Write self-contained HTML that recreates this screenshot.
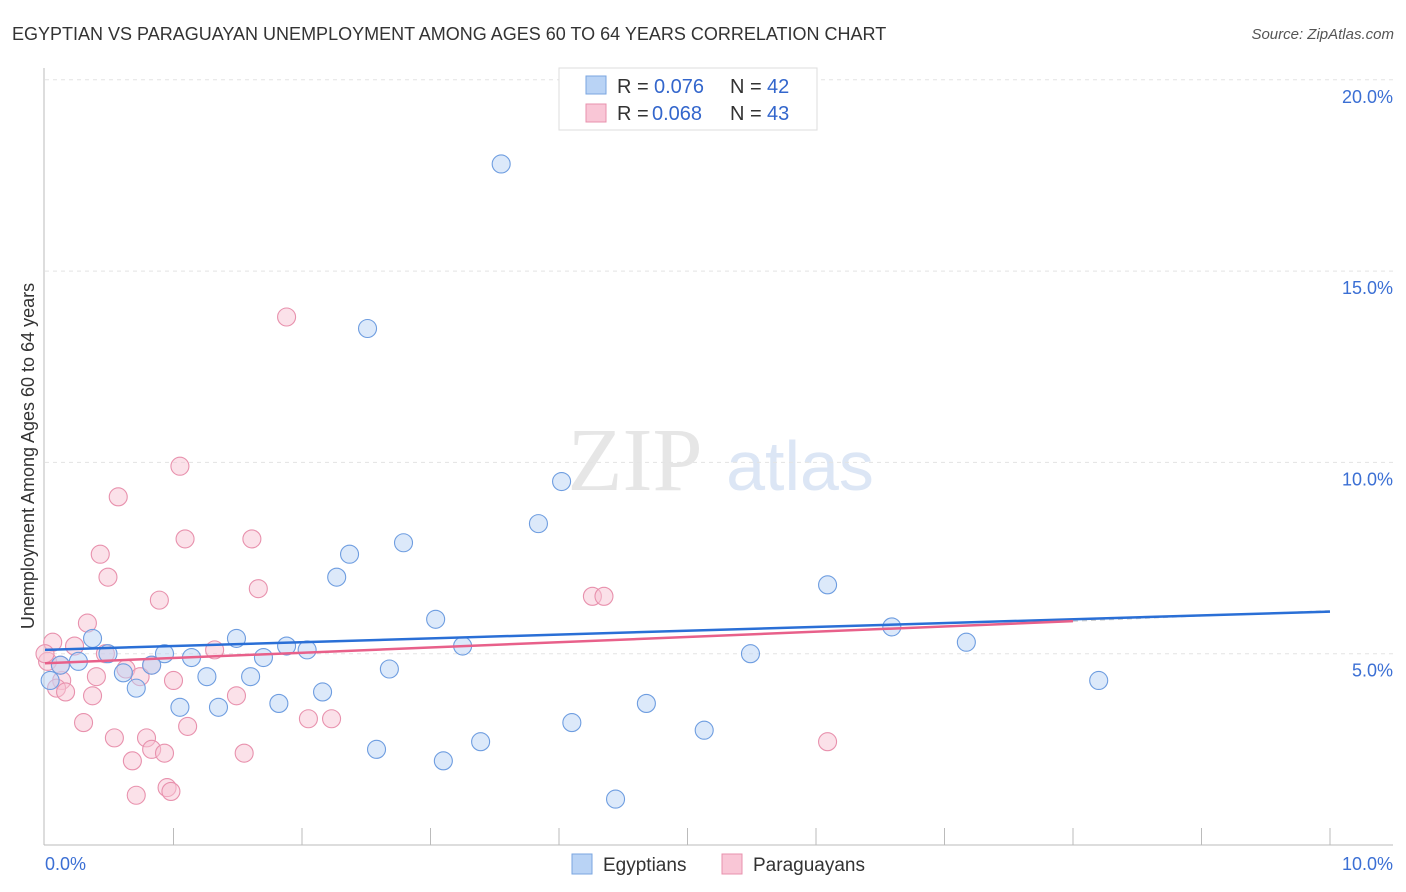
<!DOCTYPE html>
<html><head><meta charset="utf-8"><style>
body{margin:0;background:#fff;font-family:"Liberation Sans",sans-serif}
</style></head><body>
<svg id="c" width="1406" height="892" style="display:block">
<text x="12" y="40" font-size="18" fill="#333">EGYPTIAN VS PARAGUAYAN UNEMPLOYMENT AMONG AGES 60 TO 64 YEARS CORRELATION CHART</text>
<text x="1394" y="39" font-size="15" fill="#555" font-style="italic" text-anchor="end">Source: ZipAtlas.com</text>
<text x="635" y="490" font-size="90" fill="#e6e6e6" font-family="Liberation Serif" text-anchor="middle">ZIP</text>
<text x="800" y="490" font-size="70" fill="#dce6f5" text-anchor="middle">atlas</text>
<text transform="translate(34,456) rotate(-90)" font-size="18" fill="#333" text-anchor="middle">Unemployment Among Ages 60 to 64 years</text>
<g id="grid"></g><g id="pts"></g><g id="lines"></g>
<g>
<rect x="559" y="68" width="258" height="62" fill="#fff" stroke="#ddd"/>
<rect x="586" y="76" width="20" height="18" fill="#b9d3f5" stroke="#7aa6e0"/>
<text x="617" y="93" font-size="20" fill="#333">R =</text>
<text x="654" y="93" font-size="20" fill="#3366cc">0.076</text>
<text x="730" y="93" font-size="20" fill="#333">N =</text>
<text x="767" y="93" font-size="20" fill="#3366cc">42</text>
<rect x="586" y="104" width="20" height="18" fill="#f9c6d6" stroke="#e891ad"/>
<text x="617" y="120" font-size="20" fill="#333">R =</text>
<text x="652" y="120" font-size="20" fill="#3366cc">0.068</text>
<text x="730" y="120" font-size="20" fill="#333">N =</text>
<text x="767" y="120" font-size="20" fill="#3366cc">43</text>
</g>
<g>
<rect x="572" y="854" width="20" height="20" fill="#b9d3f5" stroke="#7aa6e0"/>
<text x="603" y="871" font-size="19" fill="#333">Egyptians</text>
<rect x="722" y="854" width="20" height="20" fill="#f9c6d6" stroke="#e891ad"/>
<text x="753" y="871" font-size="19" fill="#333">Paraguayans</text>
</g>
</svg>
<script>
const yTicks=[5,10,15,20];
const yTickLabels=["5.0%","10.0%","15.0%","20.0%"];
const xTickCount=[1,2,3,4,5,6,7,8,9,10];
const egyX=[3.55,2.51,4.02,3.84,2.37,2.79,2.27,6.09,3.04,6.59,7.17,1.49,1.88,2.04,0.93,1.14,1.70,3.25,5.49,0.37,0.49,0.83,0.61,2.68,1.26,1.60,8.20,0.71,2.16,1.82,1.35,1.05,4.68,4.10,5.13,3.39,2.58,3.10,4.44,0.12,0.26,0.04];
const egyY=[17.8,13.5,9.5,8.4,7.6,7.9,7.0,6.8,5.9,5.7,5.3,5.4,5.2,5.1,5.0,4.9,4.9,5.2,5.0,5.4,5.0,4.7,4.5,4.6,4.4,4.4,4.3,4.1,4.0,3.7,3.6,3.6,3.7,3.2,3.0,2.7,2.5,2.2,1.2,4.7,4.8,4.3];
const parX=[1.88,1.05,0.57,1.09,1.61,0.43,0.49,1.66,0.89,4.26,4.35,0.33,0.06,0.23,1.32,0.47,0.63,0.83,0.40,0.74,1.00,0.13,0.09,0.16,0.37,1.49,0.30,1.11,2.05,2.23,0.54,0.79,0.83,0.93,1.55,6.09,0.68,0.95,0.98,0.71,0.02,0.12,0.0];
const parY=[13.8,9.9,9.1,8.0,8.0,7.6,7.0,6.7,6.4,6.5,6.5,5.8,5.3,5.2,5.1,5.0,4.6,4.7,4.4,4.4,4.3,4.3,4.1,4.0,3.9,3.9,3.2,3.1,3.3,3.3,2.8,2.8,2.5,2.4,2.4,2.7,2.2,1.5,1.4,1.3,4.8,4.7,5.0];
const egyTrend=[5.1,6.1];
const parTrend=[4.75,5.85];
const sx=v=>45+v*128.5, sy=v=>845-v*38.26;
const NS="http://www.w3.org/2000/svg";
function mk(t,a,p){const e=document.createElementNS(NS,t);for(const k in a)e.setAttribute(k,a[k]);p.appendChild(e);return e;}
const g=document.getElementById('grid');
yTicks.forEach((t,i)=>{const l=mk('line',{x1:45,x2:1393,y1:sy(t),y2:sy(t),stroke:'#e3e3e3','stroke-dasharray':'4,4'},g);


const tx=mk('text',{x:1393,y:sy(t)+23,'font-size':18,fill:'#3b6fd4','text-anchor':'end'},g);tx.textContent=yTickLabels[i];

});
mk('line',{x1:44,x2:44,y1:68,y2:845,stroke:'#bbb'},g);
mk('line',{x1:44,x2:1393,y1:845,y2:845,stroke:'#bbb'},g);
xTickCount.forEach(t=>{const l=mk('line',{x1:sx(t),x2:sx(t),y1:828,y2:845,stroke:'#bbb'},g);

});
const x0=mk('text',{x:45,y:870,'font-size':18,fill:'#3b6fd4'},g);x0.textContent='0.0%';
const x1=mk('text',{x:1393,y:870,'font-size':18,fill:'#3b6fd4','text-anchor':'end'},g);x1.textContent='10.0%';
const p=document.getElementById('pts');
function dots(X,Y,f,s,n){X.forEach((x,i)=>{const c=mk('circle',{cx:sx(x),cy:sy(Y[i]),r:9,fill:f,'fill-opacity':0.5,stroke:s,'stroke-width':1.1},p);

});}
dots(parX,parY,'#f8c3d3','#e891ad','paraguayan-point');
dots(egyX,egyY,'#b9d3f5','#6e9de0','egyptian-point');
const L=document.getElementById('lines');
const pe=x=>parTrend[0]+(parTrend[1]-parTrend[0])*x/8;
mk('line',{x1:sx(8),x2:sx(10),y1:sy(pe(8)),y2:sy(pe(10)),stroke:'#ccc','stroke-dasharray':'5,4','stroke-width':1.2},L);
const bl=mk('line',{x1:sx(0),x2:sx(10),y1:sy(egyTrend[0]),y2:sy(egyTrend[1]),stroke:'#2a6fd6','stroke-width':2.5},L);


const pl=mk('line',{x1:sx(0),x2:sx(8),y1:sy(parTrend[0]),y2:sy(parTrend[1]),stroke:'#e8608a','stroke-width':2.5},L);


</script>
</body></html>
